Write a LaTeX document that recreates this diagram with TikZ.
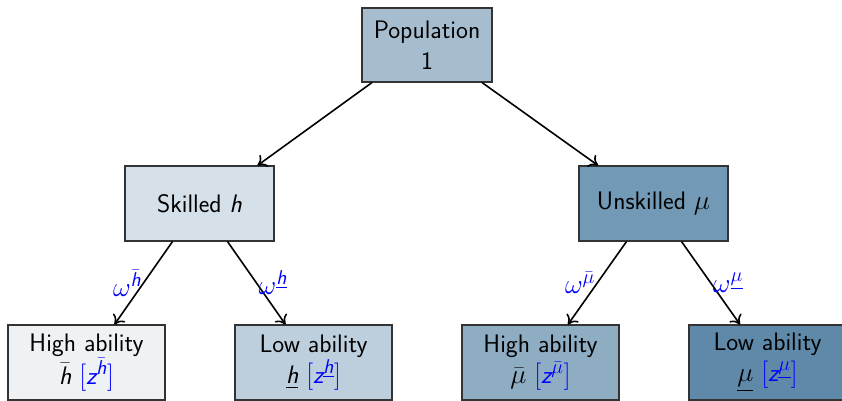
\RequirePackage{fix-cm}
\documentclass[tikz,border=0pt]{standalone}
\usepackage{amsmath}
\usetikzlibrary{arrows.meta}
\renewcommand{\familydefault}{\sfdefault}
\DeclareMathSizes{19}{20.5}{15}{11}
\newcommand{\si}[1]{\text{\sffamily\itshape #1}}
\definecolor{cpop}{RGB}{166,189,207}
\definecolor{csk}{RGB}{213,224,232}
\definecolor{cun}{RGB}{114,153,181}
\definecolor{chh}{RGB}{238,242,245}
\definecolor{clh}{RGB}{189,207,220}
\definecolor{chm}{RGB}{142,173,195}
\definecolor{clm}{RGB}{94,137,168}
\begin{document}
\begin{tikzpicture}[x=0.75pt,y=-0.75pt,
  box/.style={draw=black!80, line width=0.8pt, align=center, inner sep=0pt,
    font=\fontsize{19}{23}\selectfont},
  topbox/.style={box, minimum width=97.5pt, minimum height=55.5pt},
  midbox/.style={box, minimum width=111.75pt, minimum height=56.25pt},
  lowbox/.style={box, minimum width=117.75pt, minimum height=56.25pt},
  arr/.style={-{To[length=6.5pt,width=11pt]}, line width=1.2pt},
  lab/.style={text=blue, font=\fontsize{19}{23}\selectfont, inner sep=1pt}]
\useasboundingbox (0,0) rectangle (842,400);
\node[topbox, fill=cpop] (pop) at (427,45) {Population\\1};
\node[midbox, fill=csk] (sk) at (199.5,203.5) {Skilled \textit{h}};
\node[midbox, fill=cun] (un) at (653.5,203.5) {Unskilled $\mu$};
\node[lowbox, fill=chh] (hh) at (86.5,362.5) {High ability\\$\bar{\si{h}}$ \textcolor{blue}{$[\si{z}^{\bar{\si{h}}}]$}};
\node[lowbox, fill=clh] (lh) at (313.5,362.5) {Low ability\\$\underline{\si{h}}$ \textcolor{blue}{$[\si{z}^{\underline{\si{h}}}]$}};
\node[lowbox, fill=chm] (hm) at (540.5,362.5) {High ability\\$\bar{\mu}$ \textcolor{blue}{$[\si{z}^{\bar{\mu}}]$}};
\node[lowbox, fill=clm] (lm) at (767.5,362.5) {Low ability\\$\underline{\mu}$ \textcolor{blue}{$[\si{z}^{\underline{\mu}}]$}};
\draw[arr] ([xshift=-41.25pt]pop.south) -- ([xshift=43.5pt]sk.north);
\draw[arr] ([xshift=41.25pt]pop.south) -- ([xshift=-41.6pt]un.north);
\draw[arr] ([xshift=-20.25pt]sk.south) -- node[lab, left] {$\omega^{\bar{\si{h}}}$} ([xshift=21pt]hh.north);
\draw[arr] ([xshift=21pt]sk.south) -- node[lab, right] {$\omega^{\underline{\si{h}}}$} ([xshift=-21pt]lh.north);
\draw[arr] ([xshift=-20.25pt]un.south) -- node[lab, left] {$\omega^{\bar{\mu}}$} ([xshift=20.6pt]hm.north);
\draw[arr] ([xshift=21pt]un.south) -- node[lab, right] {$\omega^{\underline{\mu}}$} ([xshift=-20.6pt]lm.north);
\end{tikzpicture}
\end{document}
